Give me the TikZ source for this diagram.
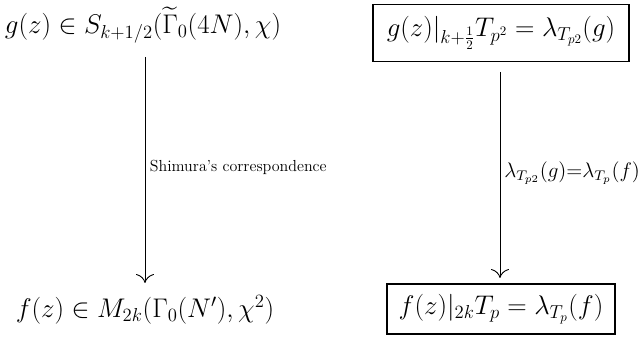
\documentclass[tikz,border=0pt]{standalone}
\usepackage{amsmath}
\usetikzlibrary{arrows.meta}
\begin{document}
\begin{tikzpicture}[x=1pt,y=1pt,
  big/.style={font=\fontsize{20}{24}\selectfont, inner sep=0pt, scale=1.3},
  boxed/.style={big, draw, line width=1.4pt},
  lbl/.style={font=\fontsize{13}{16}\selectfont, inner sep=2.5pt, scale=1.23},
  corr/.style={line width=0.9pt, -{Computer Modern Rightarrow[length=9pt,width=18pt]}}]
\useasboundingbox (0,0) rectangle (641,340);
\node[big] (tl) at (143,315) {$g(z)\in S_{k+1/2}(\widetilde{\Gamma}_0(4N),\chi)$};
\node[boxed, inner xsep=10.5pt, inner ysep=9pt] (tr) at (501,307) {$g(z)|_{k+\frac12}T_{p^2}=\lambda_{T_{p2}}(g)$};
\node[big] (bl) at (145,30) {$f(z)\in M_{2k}(\Gamma_0(N'),\chi^2)$};
\node[boxed, inner xsep=9pt, inner ysep=7.8pt] (br) at (501,31) {$f(z)|_{2k}T_p=\lambda_{T_p}(f)$};
\coordinate (a1) at (145,283);
\coordinate (a2) at (145,57);
\coordinate (b1) at (500,268);
\coordinate (b2) at (500,62);
\draw[corr] (a1) -- node[lbl, right, pos=0.49, xshift=1pt] (s) {Shimura's correspondence} (a2);
\draw[corr] (b1) -- node[right, pos=0.49, inner sep=2pt, font=\fontsize{12}{14}\selectfont, scale=1.75] (l) {$\lambda_{T_{p2}}(g){=}\lambda_{T_p}(f)$} (b2);
\end{tikzpicture}
\end{document}
